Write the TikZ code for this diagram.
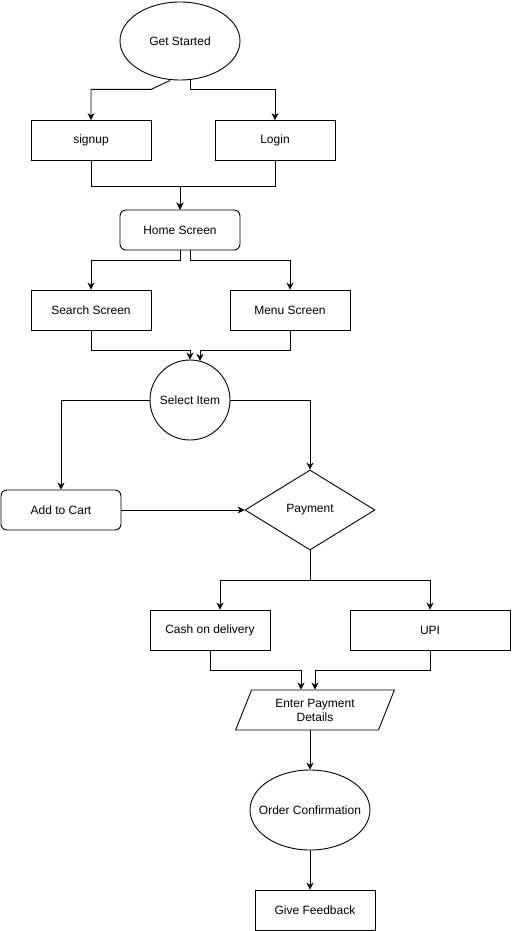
\documentclass[tikz,border=0pt]{standalone}
\usepackage{fontspec}
\setmainfont{Liberation Sans}
\usetikzlibrary{shapes.geometric, arrows.meta}

\begin{document}
\begin{tikzpicture}[x=1pt, y=-1pt, line width=0.9pt,
	base/.style={draw, font=\fontsize{12}{14}\selectfont, inner sep=0pt, align=center},
	box/.style={base, minimum width=120pt, minimum height=40pt},
	rbox/.style={box, rounded corners=6pt},
	oval/.style={base, ellipse, minimum width=120pt, minimum height=80pt},
	arr/.style={-{Stealth[length=7pt, width=7pt]}}]
	\useasboundingbox (0,0) rectangle (511,931);

	\node [oval, minimum height=78pt] (GS) at (180,41) {\makebox[0pt]{Get Started}};
	\node [box] (SU) at (91,140.5) {signup};
	\node [box] (LI) at (275,140.5) {Login};
	\node [rbox] (HS) at (180,230) {Home Screen};
	\node [box] (SS) at (91,310) {Search Screen};
	\node [box] (MS) at (290,310) {Menu Screen};
	\node [base, circle, minimum size=80pt] (SI) at (190,400) {\makebox[0pt]{Select Item}};
	\node [rbox] (AC) at (61,510) {Add to Cart};
	\node [base, diamond, minimum width=130pt, minimum height=80pt] (PA) at (310,510) {\makebox[0pt]{Payment}};
	\node [box] (CD) at (210,630) {Cash on delivery};
	\node [box, minimum width=160pt] (UP) at (430,630) {UPI};
	\node [base, trapezium, trapezium left angle=66, trapezium right angle=114,
		trapezium stretches=true, minimum width=160pt, minimum height=40pt] (EP) at (315,710) {Enter Payment\\Details};
	\node [oval] (OC) at (310,810) {\makebox[0pt]{Order Confirmation}};
	\node [box] (GF) at (315,910) {Give Feedback};

	\draw[arr] ([xshift=-10pt]GS.south) -- ([xshift=-29pt, yshift=-9pt]GS.south) -| (SU.north);
	\draw[arr] ([xshift=10pt]GS.south) -- ++(0,9) -| (LI.north);
	\draw[arr] (SU.south) -- ++(0,25) -| (HS.north);
	\draw[arr] (LI.south) -- ++(0,25) -| (HS.north);
	\draw[arr] (HS.south) -- ++(0,10) -| (SS.north);
	\draw[arr] ([xshift=10pt]HS.south) -- ++(0,10) -| (MS.north);
	\draw[arr] (SS.south) -- ++(0,20) -| (SI.north);
	\draw[arr] (MS.south) -- ++(0,20) -| ([xshift=10pt, yshift=-1.3pt]SI.north);
	\draw[arr] (SI.west) -| (AC.north);
	\draw[arr] (SI.east) -| (PA.north);
	\draw[arr] (AC.east) -- (PA.west);
	\draw[arr] (PA.south) -- ++(0,30) -| ([xshift=10pt]CD.north);
	\draw[arr] (PA.south) -- ++(0,30) -| (UP.north);
	\draw[arr] (CD.south) -- ++(0,20) -| ([xshift=-14pt]EP.north);
	\draw[arr] (UP.south) -- ++(0,20) -| (EP.north);
	\draw[arr] (OC |- EP.south) -- (OC.north);
	\draw[arr] (OC.south) -- (OC.south |- GF.north);
\end{tikzpicture}
\end{document}
